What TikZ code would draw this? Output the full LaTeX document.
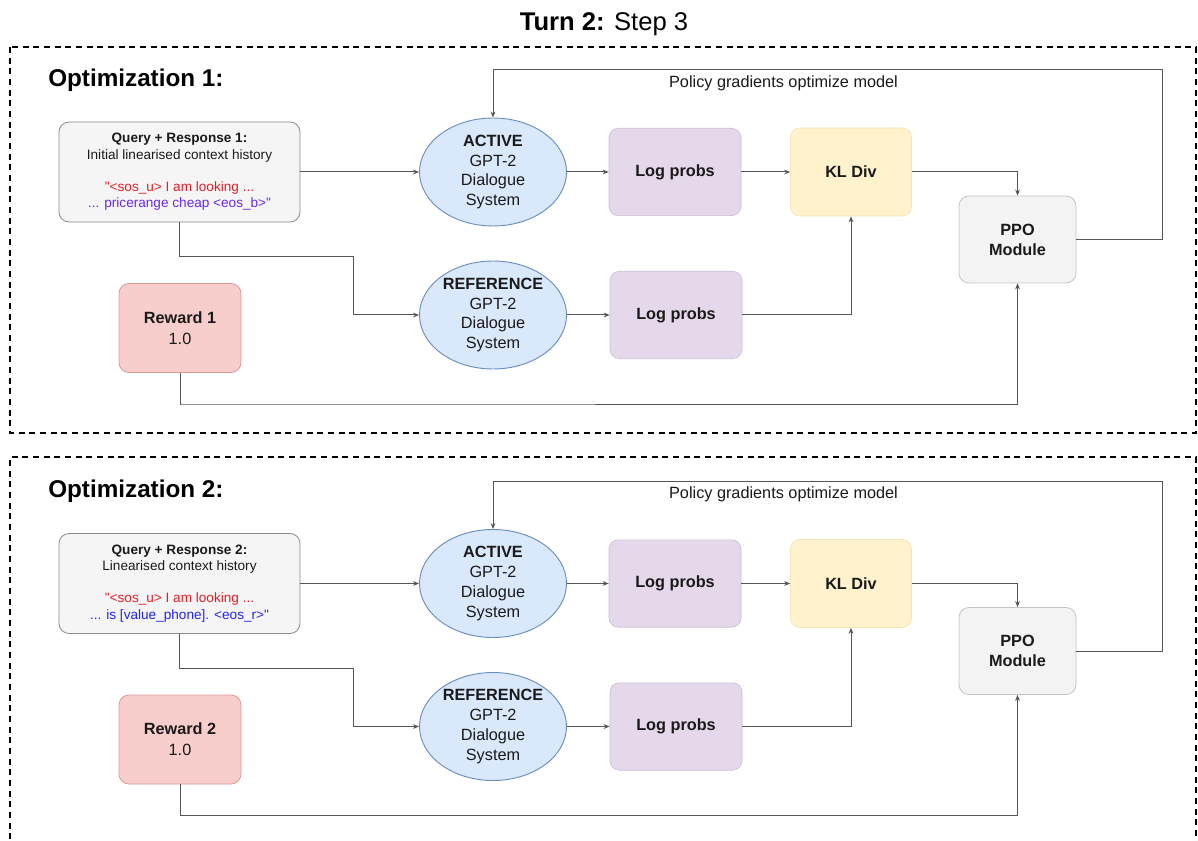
\documentclass[tikz,border=0pt]{standalone}
\usepackage{fontspec}
\setmainfont{Liberation Sans}[Ligatures=TeXOff]
\usetikzlibrary{arrows.meta,shapes.geometric,calc}
\definecolor{qfill}{HTML}{F5F5F5}
\definecolor{qdraw}{HTML}{8C8C8C}
\definecolor{efill}{HTML}{DAE8FC}
\definecolor{edraw}{HTML}{6C8EBF}
\definecolor{lpfill}{HTML}{E4D8EA}
\definecolor{lpdraw}{HTML}{CDBFD6}
\definecolor{klfill}{HTML}{FFF2CC}
\definecolor{kldraw}{HTML}{F3E6B0}
\definecolor{ppofill}{HTML}{F3F3F3}
\definecolor{ppodraw}{HTML}{C4C4C4}
\definecolor{rwfill}{HTML}{F8CECC}
\definecolor{rwdraw}{HTML}{D99C9A}
\definecolor{linecol}{HTML}{555555}
\definecolor{tokred}{HTML}{E3202A}
\definecolor{tokviolet}{HTML}{6A2BE8}
\definecolor{tokblue}{HTML}{2424EE}
\definecolor{txt}{HTML}{1A1A1A}

\tikzset{
  base/.style={text=txt, align=center, font=\fontsize{12.2}{14.8}\selectfont},
  qbox/.style={draw=qdraw, fill=qfill, rounded corners=7.5pt, line width=0.6pt,
     minimum width=180.75pt, minimum height=75pt, inner sep=0pt, align=center,
     text=txt, font=\fontsize{10.2}{12.2}\selectfont},
  ell/.style={base, ellipse, draw=edraw, fill=efill, line width=0.7pt,
     minimum width=110.25pt, minimum height=81pt, inner sep=0pt},
  lpbox/.style={base, draw=lpdraw, fill=lpfill, rounded corners=7pt, line width=0.5pt,
     minimum width=99pt, minimum height=65.5pt, font=\bfseries\fontsize{12.2}{14.8}\selectfont},
  klbox/.style={base, draw=kldraw, fill=klfill, rounded corners=7pt, line width=0.5pt,
     minimum width=90.75pt, minimum height=66pt, font=\bfseries\fontsize{12.2}{14.8}\selectfont},
  ppobox/.style={base, draw=ppodraw, fill=ppofill, rounded corners=7.5pt, line width=0.6pt,
     minimum width=87.75pt, minimum height=65.25pt, font=\bfseries\fontsize{12.2}{15}\selectfont},
  rwbox/.style={base, draw=rwdraw, fill=rwfill, rounded corners=7.5pt, line width=0.6pt,
     minimum width=91.5pt, minimum height=66.75pt, font=\fontsize{12.2}{15.5}\selectfont},
  heading/.style={text=black, inner sep=0pt, font=\bfseries\fontsize{18.2}{21}\selectfont},
  lbl/.style={text=txt, inner sep=0pt, font=\fontsize{12.2}{14}\selectfont},
  arr/.style={draw=linecol, line width=0.75pt, -{Stealth[length=4.5pt,width=3.6pt]}},
  dashbox/.style={draw=black, line width=1.1pt, dash pattern=on 4.5pt off 3.5pt},
}

\newcommand{\optpanel}[5]{%
\begin{scope}[shift={(0,#2)}]
  \node[heading, anchor=west] (head#1) at (48,80) {Optimization #1:};
  \node[qbox] (q#1) at (179.5,172) {\textbf{Query + Response #1:}\\#3\\[12pt]#4\\#5};
  \node[ell] (act#1) at (493,172) {\textbf{ACTIVE}\\GPT-2\\Dialogue\\System};
  \node[ell] (ref#1) at (493,315) {\textbf{REFERENCE}\\GPT-2\\Dialogue\\System};
  \node[lpbox] (lpa#1) at (675,172) {Log probs};
  \node[lpbox] (lpr#1) at (676,315) {Log probs};
  \node[klbox] (kl#1) at (851,172) {KL Div};
  \node[ppobox] (ppo#1) at (1017.5,239.5) {PPO\\Module};
  \node[rwbox] (rw#1) at (180,328) {\textbf{Reward #1}\\1.0};
  \node[lbl] (pg#1) at (783.5,83) {Policy gradients optimize model};
  \coordinate (qbend#1) at (353,257);
  \coordinate (rwbend#1) at (181,404);
  \coordinate (ppobend#1) at (1162,239.5);
  \coordinate (topbend#1) at (1162,70);
  \draw[arr] (q#1.east) -- (act#1.west);
  \draw[arr] (q#1.south) |- (qbend#1) |- (ref#1.west);
  \draw[arr] (act#1.east) -- (lpa#1.west);
  \draw[arr] (ref#1.east) -- (lpr#1.west);
  \draw[arr] (lpa#1.east) -- (kl#1.west);
  \draw[arr] (lpr#1.east) -| (kl#1.south);
  \draw[arr] (kl#1.east) -| (ppo#1.north);
  \draw[arr] (rw#1.south) |- (rwbend#1) -| (ppo#1.south);
  \draw[arr] (ppo#1.east) -- (ppobend#1) -- (topbend#1) -| (act#1.north);
\end{scope}}

\begin{document}
\begin{tikzpicture}[x=0.75pt, y=-0.75pt]
  \useasboundingbox (0,0) rectangle (1198,841);
  \fill[white] (0,0) rectangle (1198,841);
  \node[text=black, font=\fontsize{19.2}{22}\selectfont] (title) at (604,24) {\textbf{Turn 2:} Step 3};
  \draw[dashbox] (10,47) rectangle (1196,433);
  \draw[dashbox] (10,850) -- (10,457) -- (1196,457) -- (1196,850);
  \optpanel{1}{0}{Initial linearised context history}
    {\textcolor{tokred}{"<sos\_u> I am looking ...}}
    {\textcolor{tokviolet}{... pricerange cheap <eos\_b>"}}
  \optpanel{2}{411.5}{Linearised context history}
    {\textcolor{tokred}{"<sos\_u> I am looking ...}}
    {\textcolor{tokblue}{... is [value\_phone]. <eos\_r>"}}
\end{tikzpicture}
\end{document}
